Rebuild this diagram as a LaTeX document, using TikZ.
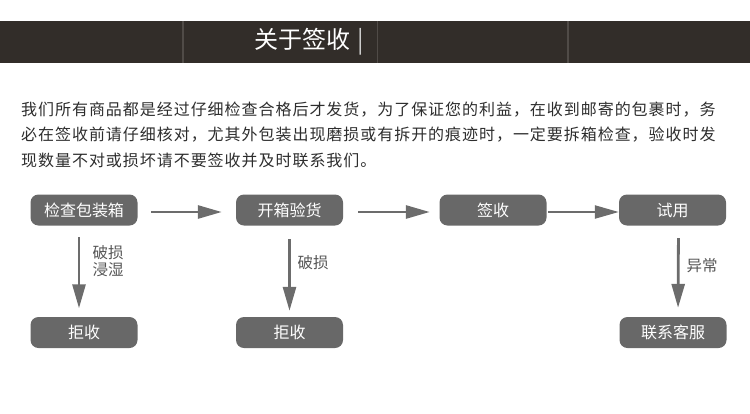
\documentclass[tikz,border=0pt]{standalone}
\usepackage{fontspec}
\setmainfont{Noto Sans CJK SC}
\newfontfamily\parafont[LetterSpace=6]{Noto Sans CJK SC}
\usetikzlibrary{arrows.meta}

\definecolor{bandbrown}{RGB}{50,45,41}
\definecolor{banddiv}{RGB}{80,75,71}
\definecolor{boxgray}{RGB}{104,104,104}
\definecolor{arrowgray}{RGB}{108,108,108}
\definecolor{labelgray}{RGB}{85,85,85}
\definecolor{textgray}{RGB}{45,45,45}

\tikzset{
  stepbox/.style = {rectangle, rounded corners=8pt, fill=boxgray, text=white,
                    minimum width=#1, minimum height=31pt, inner sep=0pt,
                    font=\fontsize{16}{16}\selectfont},
  stepbox/.default = 107pt,
  flow/.style = {draw=arrowgray, line width=2.8pt,
                 -{Triangle[length=24pt,width=13pt]}},
  note/.style = {anchor=west, text=labelgray, align=left, inner sep=0pt,
                 font=\fontsize{15.5}{16.7}\selectfont},
  paraline/.style = {anchor=west, text=textgray, inner sep=0pt,
                     font=\parafont\fontsize{16}{16}\selectfont}
}

\begin{document}
\begin{tikzpicture}[x=1pt,y=-1pt]
	\def \rowA{210}
	\def \rowB{332.5}
	\useasboundingbox (0,0) rectangle (750,413);
	
	% Header band
	\fill[bandbrown] (0,21) rectangle (750,63);
	\draw[banddiv, line width=1.2pt] (183,21) -- (183,63);
	\draw[banddiv, line width=1.2pt] (377.5,21) -- (377.5,63);
	\draw[banddiv, line width=1.2pt] (568,21) -- (568,63);
	\node[anchor=west, text=white, inner sep=0pt, font=\fontsize{24}{24}\selectfont] (title) at (254,42) {关于签收\hspace{7pt}{\color{white!80!black}|}};
	
	% Notice text
	\node[paraline] (line1) at (21,110) {我们所有商品都是经过仔细检查合格后才发货，为了保证您的利益，在收到邮寄的包裹时，务};
	\node[paraline] (line2) at (21,135) {必在签收前请仔细核对，尤其外包装出现磨损或有拆开的痕迹时，一定要拆箱检查，验收时发};
	\node[paraline] (line3) at (21,160) {现数量不对或损坏请不要签收并及时联系我们。};
	
	% Steps
	\node[stepbox] (pack)  at (84,\rowA)    {检查包装箱};
	\node[stepbox] (open)  at (289.5,\rowA) {开箱验货};
	\node[stepbox] (sign)  at (493,\rowA)   {签收};
	\node[stepbox] (trial) at (672.5,\rowA) {试用};
	
	% Outcomes
	\node[stepbox] (reject1) at (84,\rowB)    {拒收};
	\node[stepbox] (reject2) at (289.5,\rowB) {拒收};
	\node[stepbox] (service) at (673,\rowB)   {联系客服};
	
	% Flow
	\draw[flow, shorten <=13.5pt, shorten >=14pt] ([yshift=-2pt]pack.east) -- ([yshift=-2pt]open.west);
	\draw[flow, shorten <=15pt, shorten >=9.5pt] ([yshift=-2pt]open.east) -- ([yshift=-2pt]sign.west);
	\draw[flow, line width=2.2pt, shorten <=1.5pt] ([yshift=-2pt]sign.east) -- ([yshift=-2pt]trial.west);
	
	\draw[flow, shorten <=11.5pt, shorten >=8.5pt] ([xshift=-5pt]pack.south) -- ([xshift=-5pt]reject1.north);
	\draw[flow, shorten <=13.5pt, shorten >=6pt] (open.south) -- (reject2.north);
	\draw[flow, shorten <=12.5pt, shorten >=9pt] ([xshift=6pt]trial.south) -- ([xshift=5pt]service.north);
	
	% Reasons
	\node[note] (wet)    at (92.5,261) {破损\\浸湿};
	\node[note] (broken) at (297.5,263) {破损};
	\node[note] (odd)    at (686.5,266) {异常};
	
\end{tikzpicture}
\end{document}
